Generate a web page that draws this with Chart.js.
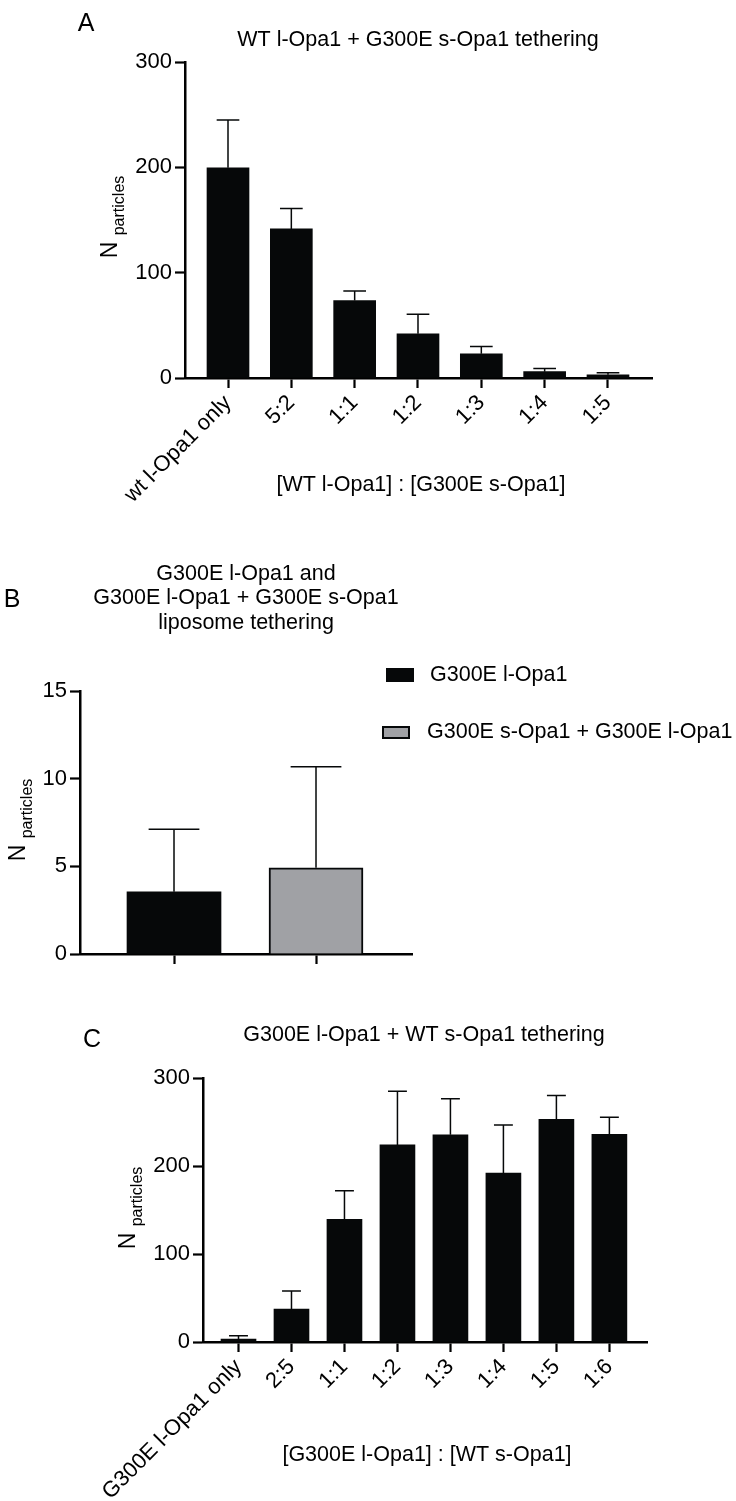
<!DOCTYPE html>
<html>
<head>
<meta charset="utf-8">
<script src="https://cdn.jsdelivr.net/npm/chart.js@4.4.0/dist/chart.umd.min.js"></script>
<style>
  body { margin: 0; background: #fff; width: 736px; height: 1501px; position: relative; overflow: hidden; }
  canvas { position: absolute; left: 0; }
</style>
</head>
<body>
<canvas id="chartA" width="736" height="560" style="top:0px"></canvas>
<canvas id="chartB" width="736" height="420" style="top:560px"></canvas>
<canvas id="chartC" width="736" height="521" style="top:980px"></canvas>
<script>
// panel A
const labelsA = ['wt l-Opa1 only', '5:2', '1:1', '1:2', '1:3', '1:4', '1:5'];
const meansA = [199.5, 141.5, 73.5, 42, 23, 6, 3];
const errsA = [45.5, 19.5, 9, 18.5, 7, 3, 2];

// panel B
const seriesB = ['G300E l-Opa1', 'G300E s-Opa1 + G300E l-Opa1'];
const meansB = [3.55, 4.92];
const errsB = [3.56, 5.76];

// panel C
const labelsC = ['G300E l-Opa1 only', '2:5', '1:1', '1:2', '1:3', '1:4', '1:5', '1:6'];
const meansC = [3.4, 37.5, 139.5, 224, 235.5, 192, 253, 236];
const errsC = [3.6, 20.5, 32.5, 61, 41, 54.5, 27, 19.5];

const ticksA = [0, 100, 200, 300];
const ticksB = [0, 5, 10, 15];

const black = '#060809';
const grey = '#a0a1a5';
const FONT = "'Liberation Sans', Arial, Helvetica, sans-serif";

Chart.defaults.font.family = FONT;
Chart.defaults.color = '#000';

// error bars (mean + SD, upper only)
const errorBars = {
  id: 'errorBars',
  afterDatasetsDraw(chart) {
    const ctx = chart.ctx;
    const y = chart.scales.y;
    chart.data.datasets.forEach((ds, di) => {
      chart.getDatasetMeta(di).data.forEach((bar, i) => {
        const base = y.getPixelForValue(ds.data[i].y);
        const top = y.getPixelForValue(ds.data[i].y + ds.errors[i]);
        const half = bar.width * 0.27;
        ctx.save();
        ctx.strokeStyle = black;
        ctx.lineWidth = 1.5;
        ctx.beginPath();
        ctx.moveTo(bar.x, base);
        ctx.lineTo(bar.x, top);
        ctx.moveTo(bar.x - half, top);
        ctx.lineTo(bar.x + half, top);
        ctx.stroke();
        ctx.restore();
      });
    });
  }
};

// letters, titles, y title with subscript, legend
const panelText = {
  id: 'panelText',
  afterDraw(chart, args, o) {
    const ctx = chart.ctx;
    ctx.save();
    ctx.fillStyle = '#000';
    ctx.textBaseline = 'middle';
    if (o.letter) {
      ctx.font = '25px ' + FONT;
      ctx.textAlign = 'center';
      ctx.fillText(o.letter.text, o.letter.x, o.letter.y);
    }
    if (o.title) {
      ctx.font = '21.5px ' + FONT;
      ctx.textAlign = 'center';
      o.title.lines.forEach((t, i) => ctx.fillText(t, o.title.x, o.title.y + i * o.title.lh));
    }
    if (o.xTitle) {
      ctx.font = '21.5px ' + FONT;
      ctx.textAlign = 'center';
      ctx.fillText(o.xTitle.text, o.xTitle.x, o.xTitle.y);
    }
    if (o.yTitle) {
      ctx.translate(o.yTitle.x, o.yTitle.y);
      ctx.rotate(-Math.PI / 2);
      ctx.textBaseline = 'alphabetic';
      ctx.textAlign = 'left';
      ctx.font = '23px ' + FONT;
      const wN = ctx.measureText('N ').width;
      ctx.font = '16px ' + FONT;
      const wP = ctx.measureText('particles').width;
      const x0 = -(wN + wP) / 2;
      ctx.font = '23px ' + FONT;
      ctx.fillText('N', x0, 8);
      ctx.font = '16px ' + FONT;
      ctx.fillText('particles', x0 + wN, 15);
      ctx.setTransform(1, 0, 0, 1, 0, 0);
    }
    if (o.legend) {
      ctx.font = '21.5px ' + FONT;
      ctx.textAlign = 'left';
      ctx.textBaseline = 'middle';
      chart.data.datasets.forEach((ds, i) => {
        const it = o.legend[i];
        ctx.fillStyle = ds.backgroundColor;
        ctx.fillRect(it.x, it.y, it.w, it.h);
        if (ds.borderWidth) {
          ctx.strokeStyle = black;
          ctx.lineWidth = 2;
          ctx.strokeRect(it.x + 1, it.y + 1, it.w - 2, it.h - 2);
        }
        ctx.fillStyle = '#000';
        ctx.fillText(ds.label, it.tx, it.y + it.h / 2);
      });
    }
    ctx.restore();
  }
};

function scalesFor(xMin, xMax, xLabels, yMax, yStep, yWidth, xHeight) {
  return {
    x: {
      type: 'linear',
      offset: false,
      min: xMin,
      max: xMax,
      afterBuildTicks: s => { s.ticks = s.ticks.filter(t => Number.isInteger(t.value) && t.value >= 0); },
      afterFit: s => { s.height = xHeight; },
      border: { display: true, color: '#000', width: 2.5 },
      grid: { display: true, offset: false, drawOnChartArea: false, drawTicks: true, tickLength: 10, tickWidth: 2.2, color: '#000' },
      ticks: {
        display: !!xLabels,
        stepSize: 1,
        includeBounds: false,
        autoSkip: false,
        minRotation: 45,
        maxRotation: 45,
        padding: 2,
        font: { size: 22 },
        callback: v => (xLabels ? xLabels[v] : '')
      }
    },
    y: {
      min: 0,
      max: yMax,
      afterFit: s => { s.width = yWidth; },
      border: { display: true, color: '#000', width: 2.5 },
      grid: { display: true, drawOnChartArea: false, drawTicks: true, tickLength: 10, tickWidth: 2.2, color: '#000' },
      ticks: { stepSize: yStep, padding: 3, font: { size: 22 } }
    }
  };
}

const common = {
  responsive: false,
  animation: false,
  devicePixelRatio: 1,
  events: []
};

// A
new Chart(document.getElementById('chartA'), {
  type: 'bar',
  data: {
    datasets: [{
      data: meansA.map((v, i) => ({ x: i, y: v })),
      errors: errsA,
      backgroundColor: black,
      barThickness: 42
    }]
  },
  options: Object.assign({}, common, {
    layout: { padding: { top: 62, right: 84, bottom: 0, left: 0 } },
    scales: scalesFor(-0.679, 6.695, labelsA, ticksA[3], 100, 185, 182),
    plugins: {
      legend: { display: false },
      tooltip: { enabled: false },
      panelText: {
        letter: { text: 'A', x: 86, y: 24 },
        title: { lines: ['WT l-Opa1 + G300E s-Opa1 tethering'], x: 418, y: 40, lh: 0 },
        xTitle: { text: '[WT l-Opa1] : [G300E s-Opa1]', x: 421, y: 485 },
        yTitle: { x: 109, y: 217 }
      }
    }
  }),
  plugins: [errorBars, panelText]
});

// B
new Chart(document.getElementById('chartB'), {
  type: 'bar',
  data: {
    datasets: [{
      label: seriesB[0],
      data: [{ x: 0, y: meansB[0] }],
      errors: [errsB[0]],
      backgroundColor: black,
      borderWidth: 0,
      barThickness: 94,
      grouped: false
    }, {
      label: seriesB[1],
      data: [{ x: 1, y: meansB[1] }],
      errors: [errsB[1]],
      backgroundColor: grey,
      borderColor: black,
      borderWidth: 2,
      barThickness: 94,
      grouped: false
    }]
  },
  options: Object.assign({}, common, {
    layout: { padding: { top: 131, right: 324, bottom: 0, left: 0 } },
    scales: scalesFor(-0.662, 1.676, null, ticksB[3], 5, 80, 26),
    plugins: {
      legend: { display: false },
      tooltip: { enabled: false },
      panelText: {
        letter: { text: 'B', x: 12, y: 40 },
        title: { lines: ['G300E l-Opa1 and', 'G300E l-Opa1 + G300E s-Opa1', 'liposome tethering'], x: 246, y: 14, lh: 24.5 },
        yTitle: { x: 17, y: 260 },
        legend: [
          { x: 386, y: 108, w: 28, h: 14, tx: 430 },
          { x: 382, y: 166, w: 28, h: 13, tx: 427 }
        ]
      }
    }
  }),
  plugins: [errorBars, panelText]
});

// C
new Chart(document.getElementById('chartC'), {
  type: 'bar',
  data: {
    datasets: [{
      data: meansC.map((v, i) => ({ x: i, y: v })),
      errors: errsC,
      backgroundColor: black,
      barThickness: 35
    }]
  },
  options: Object.assign({}, common, {
    layout: { padding: { top: 98, right: 89, bottom: 0, left: 0 } },
    scales: scalesFor(-0.67, 7.71, labelsC, ticksA[3], 100, 203, 159),
    plugins: {
      legend: { display: false },
      tooltip: { enabled: false },
      panelText: {
        letter: { text: 'C', x: 92, y: 60 },
        title: { lines: ['G300E l-Opa1 + WT s-Opa1 tethering'], x: 424, y: 55, lh: 0 },
        xTitle: { text: '[G300E l-Opa1] : [WT s-Opa1]', x: 427, y: 475 },
        yTitle: { x: 127, y: 228 }
      }
    }
  }),
  plugins: [errorBars, panelText]
});
</script>
</body>
</html>
